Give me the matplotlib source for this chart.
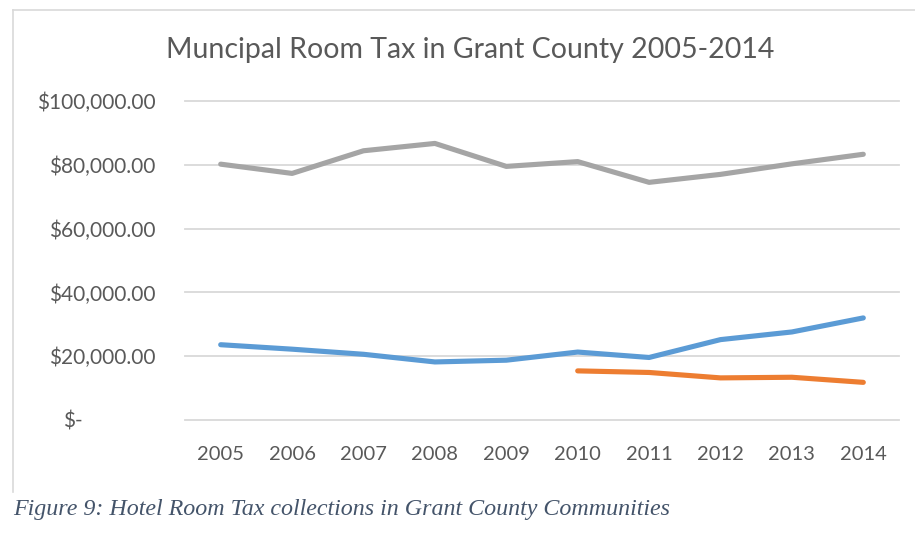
import numpy as np
import matplotlib
matplotlib.use("Agg")
import matplotlib.pyplot as plt
from matplotlib.lines import Line2D
from matplotlib.transforms import ScaledTranslation
from matplotlib.ticker import FuncFormatter

years = ["2005", "2006", "2007", "2008", "2009", "2010", "2011", "2012", "2013", "2014"]
gray_series = [80200, 77300, 84400, 86700, 79500, 81000, 74500, 77000, 80300, 83300]
blue_series = [23600, 22200, 20600, 18200, 18750, 21300, 19600, 25200, 27600, 32000]
orange_series = [np.nan, np.nan, np.nan, np.nan, np.nan, 15400, 14900, 13200, 13400, 11800]
y_ticks = [0, 20000, 40000, 60000, 80000, 100000]

title = "Muncipal Room Tax in Grant County 2005-2014"
caption = "Figure 9: Hotel Room Tax collections in Grant County Communities"

W, H, DPI = 915, 539, 100
fig = plt.figure(figsize=(W / DPI, H / DPI), dpi=DPI)
fig.patch.set_facecolor("white")

# chart frame: top and left edges (the rest runs off the page)
frame_kw = dict(transform=fig.transFigure, color="#D9D9D9", linewidth=1.2, zorder=0)
fig.lines.append(Line2D([13 / W, 13 / W], [1 - 10 / H, 1 - 492 / H], **frame_kw))
fig.lines.append(Line2D([13 / W, 1.0], [1 - 10 / H, 1 - 10 / H], **frame_kw))

left, right, top, bottom = 185, 899, 101, 420
ax = fig.add_axes([left / W, 1 - bottom / H, (right - left) / W, (bottom - top) / H])
ax.set_facecolor("none")

x = np.arange(len(years))
lw = 3.7
style = dict(lw=lw, solid_capstyle="round", solid_joinstyle="round", zorder=3)
ax.plot(x, gray_series, color="#A5A5A5", **style)
ax.plot(x, blue_series, color="#5B9BD5", **style)
ax.plot(x, orange_series, color="#ED7D31", **style)

ax.set_xlim(-0.5, len(years) - 0.5)
ax.set_ylim(0, 100000)
ax.set_xticks(x)
ax.set_xticklabels(years)
ax.set_yticks(y_ticks)


def money(v, pos):
    if v == 0:
        return "$-"
    return "${:,.2f}".format(v)


ax.yaxis.set_major_formatter(FuncFormatter(money))

for s in ax.spines.values():
    s.set_visible(False)
for t in y_ticks:
    ax.axhline(t, color="#D9D9D9", lw=1.3, zorder=1, clip_on=False)

ax.tick_params(axis="both", length=0, labelcolor="#595959")
ax.tick_params(axis="y", pad=21, labelsize=15)
ax.tick_params(axis="x", pad=18.5, labelsize=14.5)
for lab in ax.get_xticklabels() + ax.get_yticklabels():
    lab.set_family("Lato")

fig.canvas.draw()
zero_label = ax.get_yticklabels()[0]
zero_label.set_transform(zero_label.get_transform() +
                         ScaledTranslation(-73 / DPI, 0, fig.dpi_scale_trans))

fig.text(470 / W, 1 - 50 / H, title, ha="center", va="center",
         fontsize=20.5, color="#595959", family="Lato")

fig.text(13 / W, 1 - 510 / H, caption, ha="left", va="center",
         fontsize=17.3, color="#44546A", family="Liberation Serif", style="italic")

fig.savefig("out.png", dpi=DPI, facecolor="white")
